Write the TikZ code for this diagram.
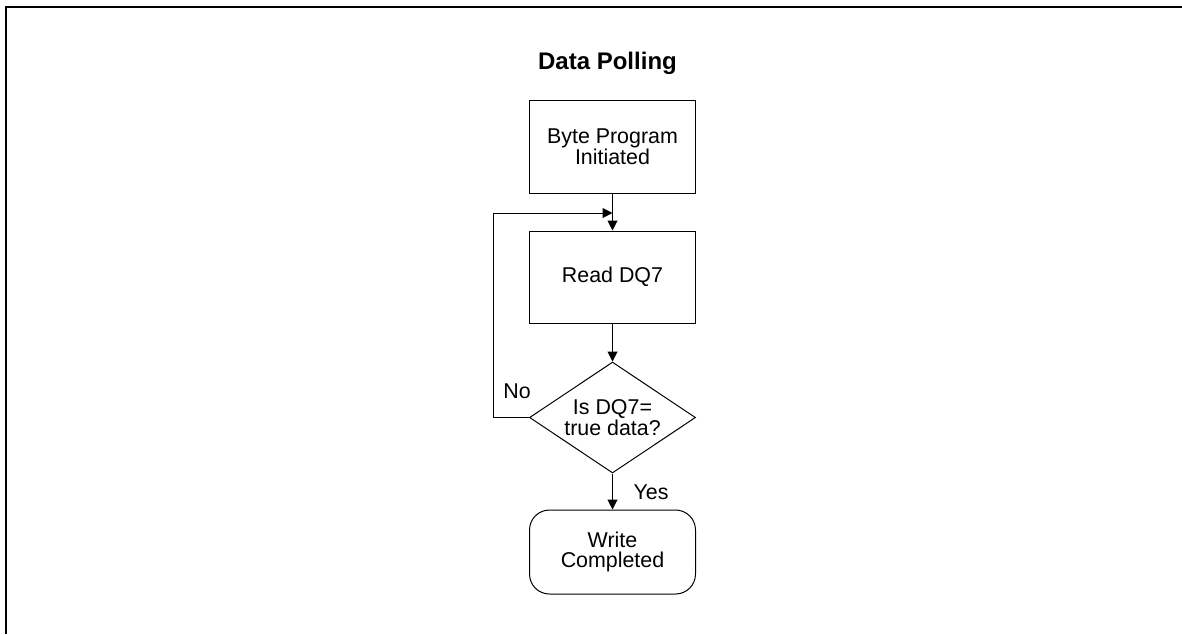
\documentclass[tikz,border=0pt]{standalone}
\usepackage{fontspec}
\setmainfont{Liberation Sans}
\usetikzlibrary{shapes.geometric,arrows.meta}

\tikzset{
  stepbox/.style={draw, line width=0.5pt, minimum width=83pt, align=center,
    font=\fontsize{10.7}{10.4}\selectfont},
  decision/.style={diamond, draw, line width=0.5pt, aspect=1.5, inner sep=0pt,
    minimum width=83pt, minimum height=55.5pt, align=center,
    font=\fontsize{10.7}{10.4}\selectfont},
  terminal/.style={stepbox, rounded corners=10pt, minimum height=42pt},
  flow/.style={draw, line width=0.5pt, -{Triangle[length=5pt,width=5pt]}},
  lbl/.style={font=\fontsize{10.7}{10.4}\selectfont}
}

\begin{document}
\begin{tikzpicture}[x=0.5pt,y=-0.5pt]

\useasboundingbox (0,0) rectangle (1182,634);
\draw[line width=1pt] (1182,6.7) -- (5.7,6.7) -- (5.7,634);

\node[anchor=base, font=\fontsize{12}{14}\bfseries] (title) at (607.5,69.3) {Data Polling};

\node[stepbox, minimum height=46.5pt] (byte) at (612.5,146.5) {Byte Program\\Initiated};
\node[stepbox, minimum height=46pt] (read) at (612.5,277) {Read DQ7};
\node[decision] (check) at (612.5,417.5) {Is DQ7=\\true data?};
\node[terminal] (done) at (612.5,552) {Write\\Completed};

\coordinate (join) at (612.5,213);
\coordinate (corner) at (493,417.5);

\draw[flow] (byte) -- (read);
\draw[flow] (read) -- (check);
\draw[flow] (check) -- (done);
\draw[flow] (check.west) -- (corner) |- (join);

\node[lbl] (yes) at (651,492) {Yes};
\node[lbl] (no) at (517,391) {No};

\end{tikzpicture}
\end{document}
